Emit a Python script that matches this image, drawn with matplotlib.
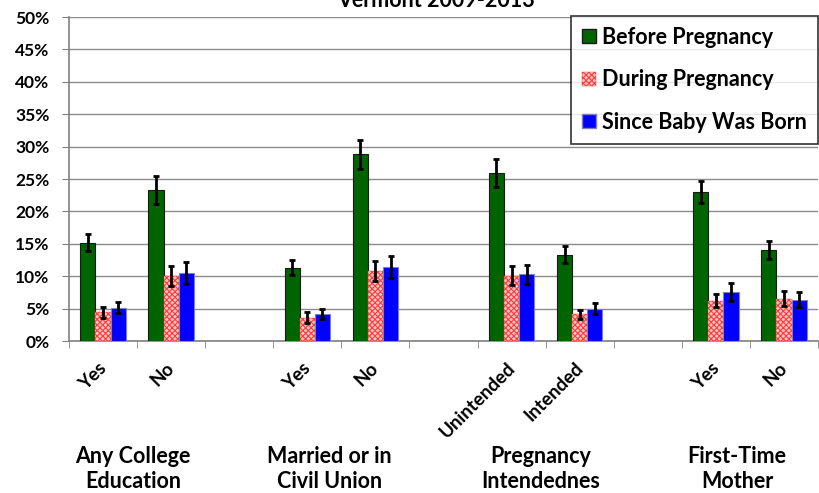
import matplotlib
matplotlib.use("Agg")
import matplotlib.pyplot as plt
import matplotlib.transforms as mtrans
import numpy as np
from matplotlib.patches import Patch

# slots: 11 category positions, blanks separate the four groups
tick_labels = ["Yes", "No", "", "Yes", "No", "", "Unintended", "Intended", "", "Yes", "No"]
group_names = ["Any College\nEducation", "Married or in\nCivil Union",
               "Pregnancy\nIntendednes", "First-Time\nMother"]
group_pos = [0.44, 3.33, 6.43, 9.31]

series = ["Before Pregnancy", "During Pregnancy", "Since Baby Was Born"]
before = [15.2, 23.3, np.nan, 11.3, 28.8, np.nan, 25.9, 13.3, np.nan, 23.0, 14.0]
during = [4.4, 10.0, np.nan, 3.6, 10.8, np.nan, 10.1, 4.1, np.nan, 6.2, 6.5]
since = [5.1, 10.5, np.nan, 4.2, 11.4, np.nan, 10.3, 5.0, np.nan, 7.6, 6.4]
err_before = [1.3, 2.1, 0, 1.15, 2.2, 0, 2.15, 1.3, 0, 1.7, 1.4]
err_during = [0.85, 1.55, 0, 0.8, 1.6, 0, 1.45, 0.75, 0, 1.0, 1.15]
err_since = [0.85, 1.7, 0, 0.75, 1.65, 0, 1.5, 0.8, 0, 1.35, 1.1]

plt.rcParams['font.family'] = ['Lato', 'DejaVu Sans']
plt.rcParams['font.weight'] = 'bold'
plt.rcParams['hatch.linewidth'] = 0.8

fig = plt.figure(figsize=(8.2, 4.93), dpi=100)
ax = fig.add_axes([0.0841, 0.3083, 0.9135, 0.6572])

x = np.arange(len(tick_labels))
w = 0.222
ekw = dict(ecolor='black', elinewidth=2, capsize=2.5, capthick=2)
pink_kw = dict(color='#ffc4c4', edgecolor='#ff3a3a', hatch='xxxxxx', linewidth=0.3)
ax.bar(x - w, before, w, color='#006400', edgecolor='#1a1a1a', linewidth=0.8,
       yerr=err_before, error_kw=ekw, zorder=3)
ax.bar(x, during, w, yerr=err_during, error_kw=ekw, zorder=3, **pink_kw)
ax.bar(x + w, since, w, color='#0000ff', edgecolor='#7f7fbf', linewidth=0.8,
       yerr=err_since, error_kw=ekw, zorder=3)

ax.set_xlim(-0.5, len(tick_labels) - 0.5)
ax.set_ylim(0, 50)
yt = np.arange(0, 51, 5)
ax.set_yticks(yt)
ax.set_yticklabels(["%d%%" % v for v in yt], fontsize=12.5, fontweight='bold')
ax.yaxis.grid(True, color='#8c8c8c', linewidth=1.0, zorder=0)
ax.tick_params(axis='y', length=5, color='#808080', pad=9)

ax.set_xticks(x)
ax.set_xticklabels(tick_labels, rotation=45, ha='right', rotation_mode='anchor',
                   fontsize=13.5, fontweight='bold')
ax.tick_params(axis='x', which='major', length=0, pad=13)
shift = mtrans.ScaledTranslation(-4 / 72, 0, fig.dpi_scale_trans)
for lab in ax.get_xticklabels():
    lab.set_transform(lab.get_transform() + shift)
ax.set_xticks(np.arange(-0.5, len(tick_labels)), minor=True)
ax.tick_params(axis='x', which='minor', length=5, color='#808080')

for s in ['top', 'right']:
    ax.spines[s].set_visible(False)
ax.spines['left'].set_color('#808080')
ax.spines['bottom'].set_color('#808080')
ax.spines['left'].set_linewidth(1.2)
ax.spines['bottom'].set_linewidth(1.2)

for gx, name in zip(group_pos, group_names):
    ax.text(gx, -19.7, name, ha='center', va='center', fontsize=15.5, fontweight='bold',
            linespacing=1.25, clip_on=False)

fig.text(0.532, 1 - 7 / 493, "Vermont 2009-2013", ha='center', va='baseline',
         fontsize=15.5, fontweight='bold')

handles = [Patch(facecolor='#006400', edgecolor='#1a1a1a'),
           Patch(facecolor='#ffc4c4', edgecolor='#ff3a3a', hatch='xxxxxx', linewidth=0.3),
           Patch(facecolor='#0000ff', edgecolor='#7f7fbf')]
leg = ax.legend(handles, series, loc='upper right', bbox_to_anchor=(1.0, 1.003),
                fontsize=15.5, frameon=True, fancybox=False, edgecolor='black',
                handlelength=0.65, handleheight=0.6, handletextpad=0.3,
                labelspacing=1.0, borderpad=0.5, borderaxespad=0)
leg.get_frame().set_linewidth(1.2)
for t in leg.get_texts():
    t.set_fontweight('bold')

fig.savefig("out.png", dpi=100)
